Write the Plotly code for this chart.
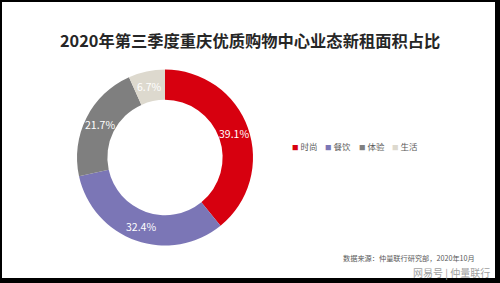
import math
import plotly.graph_objects as go

labels = ["时尚", "餐饮", "体验", "生活"]
values = [39.1, 32.4, 21.7, 6.7]
colors = ["#D7000F", "#7B76B6", "#7F7F7F", "#DDD9CE"]
title = "2020年第三季度重庆优质购物中心业态新租面积占比"
source = "数据来源：仲量联行研究部，2020年10月"
watermark = "网易号 | 仲量联行"

font = "Noto Sans CJK SC"
W, H = 500, 283

# pie geometry (pixels)
CX, CY, R_OUT, HOLE = 165, 157.5, 88, 0.655


def px(x):
    return x / W


def py(y):
    return 1 - y / H


fig = go.Figure(go.Pie(
    labels=labels,
    values=values,
    hole=HOLE,
    sort=False,
    direction="clockwise",
    rotation=0,
    marker=dict(colors=colors, line=dict(color="white", width=0)),
    textinfo="none",
    domain=dict(x=[px(CX - R_OUT), px(CX + R_OUT)], y=[py(CY + R_OUT), py(CY - R_OUT)]),
    hoverinfo="label+value",
    showlegend=False,
))

annotations = []

# slice value labels at the middle of each ring segment
total = sum(values)
r_mid = R_OUT * (1 + HOLE) / 2
cum = 0.0
for v in values:
    ang = 2 * math.pi * (cum + v / 2) / total
    cum += v
    x = CX + r_mid * math.sin(ang)
    y = CY - r_mid * math.cos(ang)
    annotations.append(dict(text=f"{v:.1f}%", x=px(x), y=py(y), xref="paper", yref="paper",
                            xanchor="center", yanchor="middle", showarrow=False,
                            font=dict(size=10.5, color="white", family=font)))

# legend
LX0, LY, LSTEP = 290, 146, 33.3
for i, (lab, col) in enumerate(zip(labels, colors)):
    annotations.append(dict(
        text=f"<span style='color:{col};font-size:6.5px'>■</span> {lab}",
        x=px(LX0 + i * LSTEP), y=py(LY), xref="paper", yref="paper",
        xanchor="left", yanchor="middle", showarrow=False,
        font=dict(size=8.5, color="#595959", family=font)))

annotations += [
    dict(text="<b>" + title + "</b>", x=0.5, y=py(40), xref="paper", yref="paper",
         xanchor="center", yanchor="middle", showarrow=False,
         font=dict(size=16.3, color="#262626", family=font)),
    dict(text=source, x=px(477), y=py(258), xref="paper", yref="paper",
         xanchor="right", yanchor="middle", showarrow=False,
         font=dict(size=7.2, color="#595959", family=font)),
    dict(text=watermark, x=px(492), y=py(272.5), xref="paper", yref="paper",
         xanchor="right", yanchor="middle", showarrow=False,
         font=dict(size=10, color="#A0A0A0", family=font)),
]

border = []
for x0, y0, x1, y1 in [(0, 0, 500, 2), (0, 0, 2, 283), (495, 0, 500, 283), (0, 278, 500, 283)]:
    border.append(dict(type="rect", xref="paper", yref="paper",
                       x0=px(x0), x1=px(x1), y0=py(y1), y1=py(y0),
                       line=dict(width=0), fillcolor="black", layer="above"))

fig.update_layout(
    width=W, height=H,
    margin=dict(l=0, r=0, t=0, b=0, autoexpand=False),
    paper_bgcolor="white",
    plot_bgcolor="white",
    font=dict(family=font),
    showlegend=False,
    annotations=annotations,
    shapes=border,
)

fig.write_html("out.html")
